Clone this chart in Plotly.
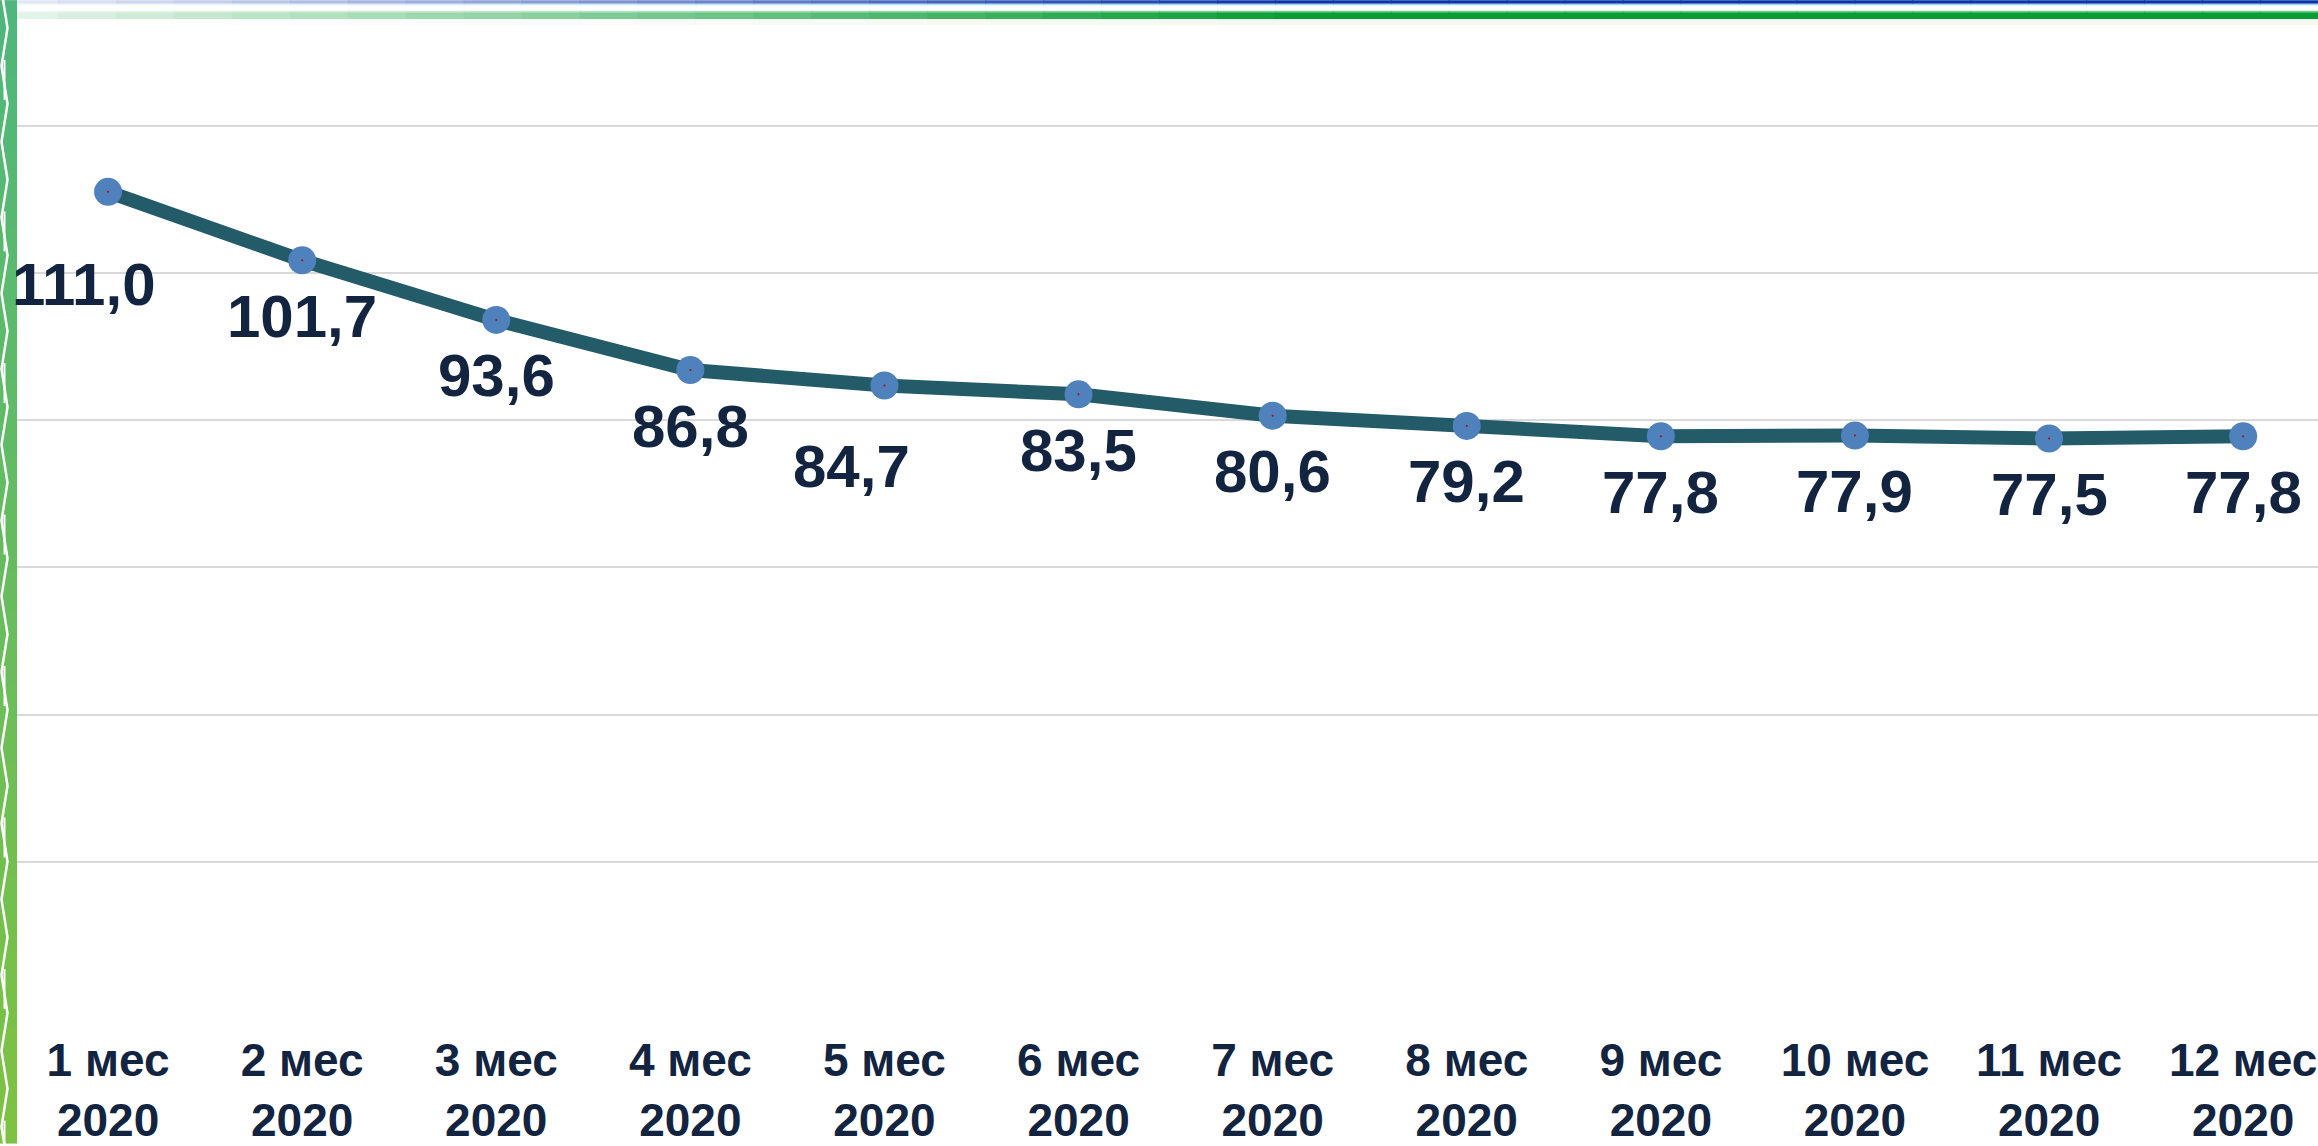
import plotly.graph_objects as go

# --- data ---
months = ["1 мес", "2 мес", "3 мес", "4 мес", "5 мес", "6 мес",
          "7 мес", "8 мес", "9 мес", "10 мес", "11 мес", "12 мес"]
year = "2020"
values = [111.0, 101.7, 93.6, 86.8, 84.7, 83.5, 80.6, 79.2, 77.8, 77.9, 77.5, 77.8]

# label nudges in px (most sit straight under the point, two were moved by hand)
label_shift = [(-24, -93), (0, -56), (0, -56), (0, -56), (-33, -81), (0, -56),
               (0, -56), (0, -56), (0, -56), (0, -56), (0, -56), (0, -56)]

W, H = 2318, 1146
M_L, M_T, M_B = 11, 52, 134
PLOT_W = W - M_L
PLOT_H = H - M_T - M_B

FONT = "Liberation Sans, Arial, sans-serif"
NAVY = "#12243F"
LINE = "#235B69"
MARKER = "#4F81BD"


def px(x):
    return (x - M_L) / PLOT_W


def py(y):
    return (H - M_B - y) / PLOT_H


def mix(c1, c2, t):
    a = [int(c1[i:i + 2], 16) for i in (1, 3, 5)]
    b = [int(c2[i:i + 2], 16) for i in (1, 3, 5)]
    return "#" + "".join(f"{round(a[k] + (b[k] - a[k]) * t):02X}" for k in range(3))


labels = [f"<b>{m}</b><br><b>{year}</b>" for m in months]

fig = go.Figure()
fig.add_trace(go.Scatter(
    x=months, y=values,
    mode="lines+markers",
    line=dict(color=LINE, width=14),
    marker=dict(size=28, color=MARKER, line=dict(width=0)),
    hoverinfo="skip",
    showlegend=False,
))
# tiny centre dots as in the original
fig.add_trace(go.Scatter(
    x=months, y=values, mode="markers",
    marker=dict(size=2, color="#C00000"),
    hoverinfo="skip", showlegend=False,
))

annotations = []
for m, v, (dx, dy) in zip(months, values, label_shift):
    annotations.append(dict(
        x=m, y=v, xref="x", yref="y",
        text=f"<b>{v:.1f}</b>".replace(".", ","),
        showarrow=False, xanchor="center", yanchor="middle",
        xshift=dx, yshift=dy,
        font=dict(family=FONT, size=60, color=NAVY),
    ))

shapes = []
# top decorative stripes, fading in from the left
n = 40
for i in range(n):
    x0 = i * W / n
    x1 = (i + 1) * W / n
    t = min(1.0, 0.12 + (x0 / 1250) * 0.88)
    shapes.append(dict(type="rect", xref="paper", yref="paper", layer="above",
                       x0=px(x0), x1=px(x1 + 1), y0=py(3.5), y1=py(0),
                       fillcolor=mix("#FFFFFF", "#0A34A8", t), line=dict(width=0)))
    shapes.append(dict(type="rect", xref="paper", yref="paper", layer="above",
                       x0=px(x0), x1=px(x1 + 1), y0=py(5), y1=py(3.5),
                       fillcolor=mix("#FFFFFF", "#9BD7F0", t), line=dict(width=0)))
    shapes.append(dict(type="rect", xref="paper", yref="paper", layer="above",
                       x0=px(x0), x1=px(x1 + 1), y0=py(12), y1=py(10.5),
                       fillcolor=mix("#FFFFFF", "#7CCB8C", t), line=dict(width=0)))
    shapes.append(dict(type="rect", xref="paper", yref="paper", layer="above",
                       x0=px(x0), x1=px(x1 + 1), y0=py(19), y1=py(12),
                       fillcolor=mix("#FFFFFF", "#0A9E37", t), line=dict(width=0)))
    shapes.append(dict(type="rect", xref="paper", yref="paper", layer="above",
                       x0=px(x0), x1=px(x1 + 1), y0=py(25), y1=py(19),
                       fillcolor=mix("#FFFFFF", "#F3F9F0", t), line=dict(width=0)))

# left green truss bar
m = 30
for i in range(m):
    y0 = i * H / m
    y1 = (i + 1) * H / m
    shapes.append(dict(type="rect", xref="paper", yref="paper", layer="above",
                       x0=px(0), x1=px(17), y0=py(y1 + 1), y1=py(y0),
                       fillcolor=mix("#4FB77B", "#7DC242", i / (m - 1)), line=dict(width=0)))
path = []
step = 38
y = -10
k = 0
while y < H + step:
    xx = 1.5 if k % 2 == 0 else 7.5
    path.append(f"{px(xx)},{py(y)}")
    y += step
    k += 1
shapes.append(dict(type="path", xref="paper", yref="paper", layer="above",
                   path="M " + " L ".join(path), line=dict(color="white", width=2.5)))
for yy in range(60, H, 152):
    shapes.append(dict(type="line", xref="paper", yref="paper", layer="above",
                       x0=px(4.5), x1=px(4.5), y0=py(yy), y1=py(yy + 40),
                       line=dict(color="white", width=2)))

fig.update_layout(
    width=W, height=H,
    margin=dict(l=M_L, r=0, t=M_T, b=M_B, pad=0),
    paper_bgcolor="white",
    plot_bgcolor="white",
    showlegend=False,
    xaxis=dict(
        type="category",
        range=[-0.5, -0.5 + PLOT_W / 194.1],
        tickmode="array", tickvals=months, ticktext=labels,
        tickfont=dict(family=FONT, size=46, color=NAVY),
        showgrid=False, zeroline=False, showline=False,
        ticks="", ticklabelstandoff=20,
    ),
    yaxis=dict(
        range=[0, 130],
        dtick=20, tick0=0,
        showticklabels=False,
        showgrid=True, gridcolor="#D9D9D9", gridwidth=2,
        zeroline=False, showline=False, ticks="",
    ),
    annotations=annotations,
    shapes=shapes,
)

fig.write_html(
    "out.html",
    config={"displayModeBar": False},
    post_script="document.body.style.margin='0';document.body.style.overflow='hidden';",
)
